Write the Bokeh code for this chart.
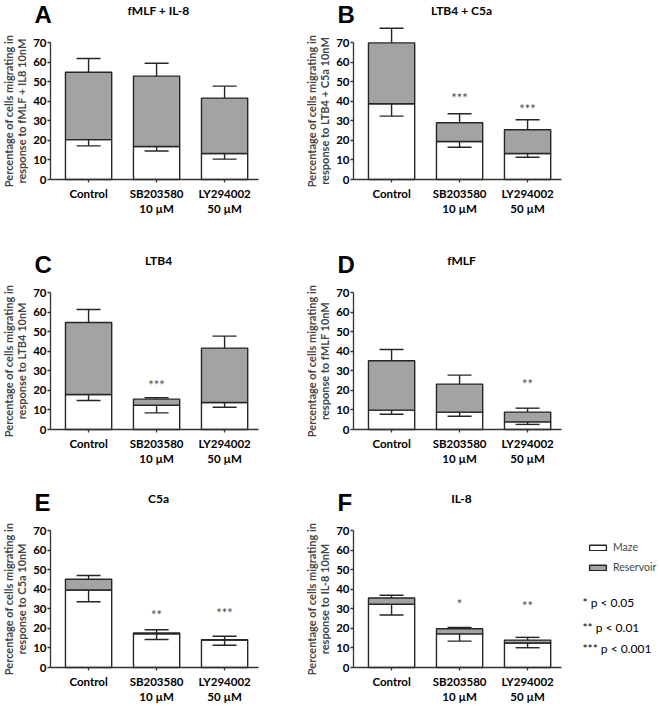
from bokeh.plotting import figure
from bokeh.layouts import column, row
from bokeh.models import (ColumnDataSource, Range1d, FixedTicker, Whisker,
                          TeeHead, Label, Legend, LegendItem)
from bokeh.core.properties import value
from bokeh.embed import file_html
from bokeh.resources import INLINE

categories = ["Control", "SB203580\n10 µM", "LY294002\n50 µM"]

# A: fMLF + IL-8
a_total = [54.8, 52.8, 41.6]
a_maze = [20.4, 16.9, 13.3]
a_total_sem = [7.0, 6.6, 6.1]
a_maze_sem = [3.2, 2.3, 2.9]
a_stars = ["", "", ""]
a_star_y = [0, 0, 0]

# B: LTB4 + C5a
b_total = [69.8, 29.0, 25.4]
b_maze = [38.7, 19.4, 13.3]
b_total_sem = [7.5, 4.6, 5.1]
b_maze_sem = [6.3, 2.9, 1.9]
b_stars = ["", "***", "***"]
b_star_y = [0, 41.6, 36.1]

# C: LTB4
c_total = [54.7, 15.5, 41.6]
c_maze = [17.9, 12.4, 13.8]
c_total_sem = [6.6, 0.7, 6.1]
c_maze_sem = [3.1, 3.9, 2.4]
c_stars = ["", "***", ""]
c_star_y = [0, 22.5, 0]

# D: fMLF
d_total = [35.1, 23.2, 8.9]
d_maze = [9.9, 8.9, 3.9]
d_total_sem = [5.8, 4.6, 2.0]
d_maze_sem = [2.1, 2.1, 1.3]
d_stars = ["", "", "**"]
d_star_y = [0, 0, 23.2]

# E: C5a
e_total = [45.1, 17.6, 14.2]
e_maze = [39.6, 17.2, 14.0]
e_total_sem = [1.9, 1.7, 1.8]
e_maze_sem = [6.0, 2.9, 2.6]
e_stars = ["", "**", "***"]
e_star_y = [0, 27.0, 27.7]

# F: IL-8
f_total = [35.5, 19.8, 14.0]
f_maze = [32.3, 17.2, 12.5]
f_total_sem = [1.4, 0.7, 1.4]
f_maze_sem = [5.5, 3.7, 2.4]
f_stars = ["", "*", "**"]
f_star_y = [0, 32.4, 31.2]

p_notes = ["* p < 0.05", "** p < 0.01", "*** p < 0.001"]

EDGE = "#262626"
GREY = "#a3a3a3"
FONT = "Lato"
W1, W2 = 303, 357
AXIS_X = 50           # y axis, pixels from the figure's left edge
PPU_X = 68.0          # pixels per category step
PPU_Y = 1.957         # pixels per percent
X_START, X_END = -0.56, 2.5


# every figure's frame is the whole canvas, so the axes sit at fixed places in it
def make_panel(letter, title, ylabel, total, maze, total_sem, maze_sem, stars, star_y,
               width, height, base):
    xs = list(range(len(categories)))
    src = ColumnDataSource(dict(
        x=xs, total=total, maze=maze,
        hi=[t + s for t, s in zip(total, total_sem)],
        lo=[m - s for m, s in zip(maze, maze_sem)],
        stars=stars, star_y=star_y))

    x0 = X_START - AXIS_X / PPU_X
    p = figure(x_range=Range1d(x0, x0 + width / PPU_X),
               y_range=Range1d(-base / PPU_Y, (height - base) / PPU_Y),
               width=width, height=height, output_backend="svg", toolbar_location=None,
               min_border=0, min_border_left=0, min_border_right=0,
               min_border_top=0, min_border_bottom=0)

    maze_r = p.vbar(x="x", bottom=0, top="maze", width=0.68, fill_color="white",
                    line_color=EDGE, line_width=1.4, source=src)
    res_r = p.vbar(x="x", bottom="maze", top="total", width=0.68, fill_color=GREY,
                   line_color=EDGE, line_width=1.4, source=src)

    p.add_layout(Whisker(source=src, base="x", lower="total", upper="hi", level="overlay",
                         upper_head=TeeHead(size=24, line_color=EDGE, line_width=1.4),
                         lower_head=None, line_color=EDGE, line_width=1.4))
    p.add_layout(Whisker(source=src, base="x", lower="lo", upper="maze", level="overlay",
                         lower_head=TeeHead(size=24, line_color=EDGE, line_width=1.4),
                         upper_head=None, line_color=EDGE, line_width=1.4))

    p.text(x="x", y="star_y", text="stars", source=src, text_align="center",
           text_baseline="middle", text_font_size="13px", text_color="#4d4d4d",
           text_font=value(FONT))

    p.xgrid.visible = False
    p.ygrid.visible = False
    p.outline_line_color = None

    p.yaxis.fixed_location = X_START
    p.yaxis.ticker = FixedTicker(ticks=list(range(0, 71, 10)))
    p.yaxis.bounds = (0, 70)
    p.yaxis.axis_label = "Percentage of cells migrating in\n" + ylabel
    p.yaxis.axis_label_text_font = FONT
    p.yaxis.axis_label_text_font_style = "bold"
    p.yaxis.axis_label_text_font_size = "11px"
    p.yaxis.axis_label_text_line_height = 1.0
    p.yaxis.axis_label_standoff = 2
    p.yaxis.major_label_standoff = 1

    p.xaxis.fixed_location = 0
    p.xaxis.ticker = FixedTicker(ticks=xs)
    p.xaxis.major_label_overrides = {i: c for i, c in zip(xs, categories)}
    p.xaxis.bounds = (X_START, X_END)
    p.xaxis.major_label_standoff = 4

    p.axis.minor_tick_line_color = None
    p.axis.major_tick_in = 0
    p.axis.major_tick_out = 3
    p.axis.axis_line_color = "#333333"
    p.axis.major_tick_line_color = "#333333"
    p.axis.axis_line_width = 1.3
    p.axis.major_tick_line_width = 1.3
    p.axis.major_label_text_font = FONT
    p.axis.major_label_text_font_style = "bold"
    p.axis.major_label_text_font_size = "11.5px"
    p.axis.major_label_text_color = "black"

    top70 = base + 70 * PPU_Y
    p.add_layout(Label(x=AXIS_X - 16, y=top70 + 15, x_units="screen", y_units="screen",
                       text=letter, text_font="Liberation Sans", text_font_style="bold",
                       text_font_size="24px", text_color="black"))
    p.add_layout(Label(x=AXIS_X + 108, y=top70 + 32, x_units="screen",
                       y_units="screen", text=title, text_align="center",
                       text_baseline="middle", text_font=FONT, text_font_style="bold",
                       text_font_size="12px", text_color="black"))
    return p, maze_r, res_r


pA, _, _ = make_panel("A", "fMLF + IL-8", "response to fMLF + IL8 10nM", a_total, a_maze,
                      a_total_sem, a_maze_sem, a_stars, a_star_y, W1, 235, 56)
pB, _, _ = make_panel("B", "LTB4 + C5a", "response to LTB4 + C5a 10nM", b_total, b_maze,
                      b_total_sem, b_maze_sem, b_stars, b_star_y, W2, 235, 56)
pC, _, _ = make_panel("C", "LTB4", "response to LTB4 10nM", c_total, c_maze,
                      c_total_sem, c_maze_sem, c_stars, c_star_y, W1, 245, 51)
pD, _, _ = make_panel("D", "fMLF", "response to fMLF 10nM", d_total, d_maze,
                      d_total_sem, d_maze_sem, d_stars, d_star_y, W2, 245, 51)
pE, _, _ = make_panel("E", "C5a", "response to C5a 10nM", e_total, e_maze,
                      e_total_sem, e_maze_sem, e_stars, e_star_y, W1, 224, 37)
pF, maze_r, res_r = make_panel("F", "IL-8", "response to IL-8 10nM", f_total, f_maze,
                               f_total_sem, f_maze_sem, f_stars, f_star_y, W2, 224, 37)

legend = Legend(items=[LegendItem(label="Maze", renderers=[maze_r]),
                       LegendItem(label="Reservoir", renderers=[res_r])],
                location=(284, 37 + 94), glyph_width=21, glyph_height=7, label_height=12,
                spacing=8, padding=0, margin=0, label_standoff=5,
                label_text_font=FONT, label_text_font_size="10.5px",
                border_line_color=None, background_fill_alpha=0)
pF.add_layout(legend)

for note, ny in zip(p_notes, [65, 40, 19]):
    pF.add_layout(Label(x=279, y=37 + ny, x_units="screen", y_units="screen", text=note,
                        text_baseline="middle", text_font=FONT,
                        text_font_size="12px", text_color="black"))

layout = column(row(pA, pB), row(pC, pD), row(pE, pF))

open("out.html", "w", encoding="utf-8").write(file_html(layout, INLINE))
